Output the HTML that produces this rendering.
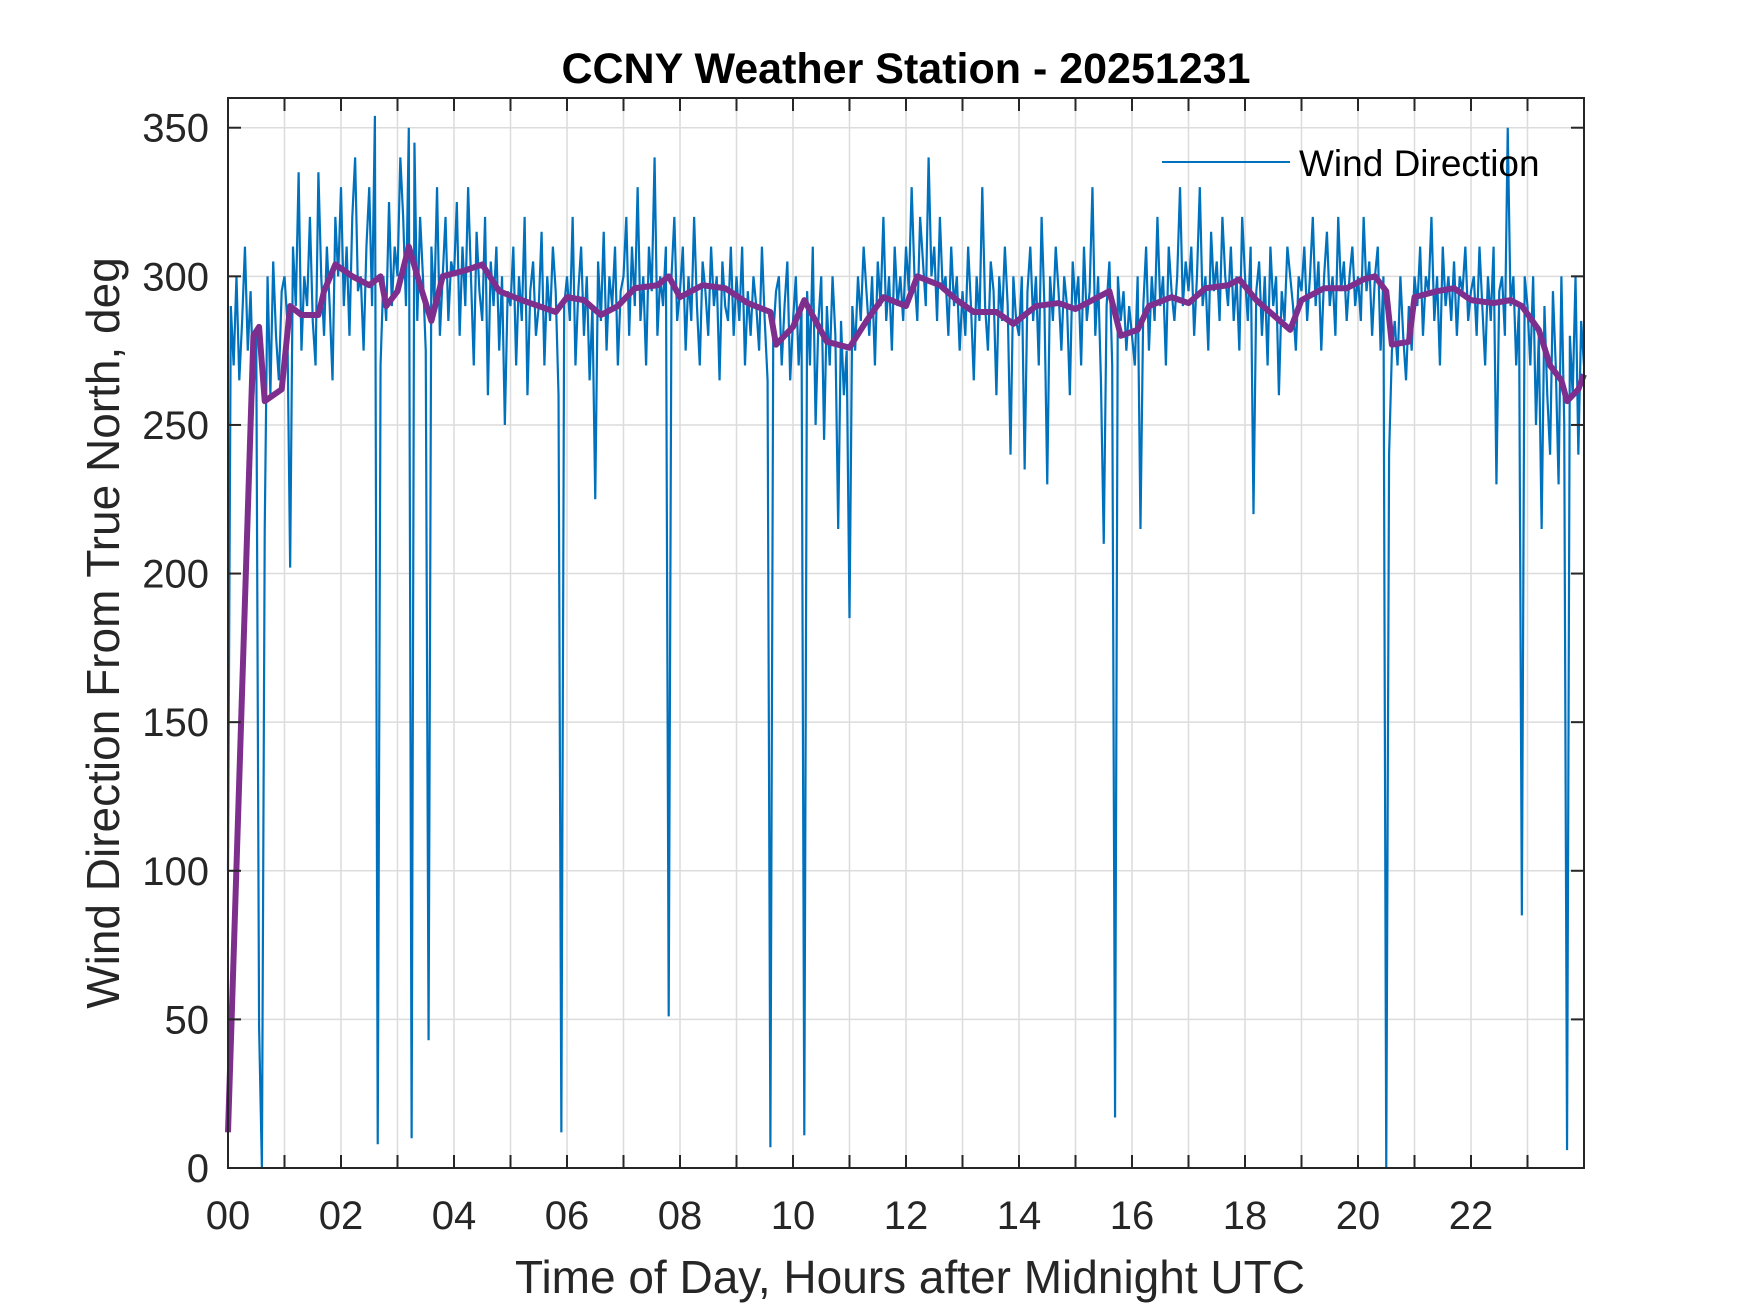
<!DOCTYPE html>
<html><head><meta charset="utf-8"><style>
html,body{margin:0;padding:0;background:#fff;}
svg{display:block;font-family:"Liberation Sans",Arial,sans-serif;}
</style></head><body>
<svg id="chart" width="1750" height="1313" viewBox="0 0 1750 1313" xmlns="http://www.w3.org/2000/svg">
<rect x="0" y="0" width="1750" height="1313" fill="#fff"/>
<text x="906" y="83" text-anchor="middle" font-size="43" font-weight="bold" fill="#000">CCNY Weather Station - 20251231</text>
<g id="grid"></g>
<g id="series"></g>
<g id="axes"></g>
<text transform="translate(119,633) rotate(-90)" text-anchor="middle" font-size="46" fill="#262626">Wind Direction From True North, deg</text>
<text x="910" y="1293" text-anchor="middle" font-size="46" fill="#262626">Time of Day, Hours after Midnight UTC</text>
<g>
<line x1="1162" y1="162" x2="1290" y2="162" stroke="#0072BD" stroke-width="2"/>
<text x="1299" y="176" font-size="37" fill="#000">Wind Direction</text>
</g>
</svg>
<script>
// Tick data
const xTicks = [0,1,2,3,4,5,6,7,8,9,10,11,12,13,14,15,16,17,18,19,20,21,22,23];
const xTickLabels = ["00","","02","","04","","06","","08","","10","","12","","14","","16","","18","","20","","22",""];
const yTicks = [0,50,100,150,200,250,300,350];
const yTickLabels = ["0","50","100","150","200","250","300","350"];
// Wind direction samples, every 3 minutes (20 per hour)
const windDir = [
100,290,270,300,265,285,310,275,295,260,280,48,0,215,300,260,305,280,265,295,
300,285,202,310,290,335,275,300,290,320,285,270,335,300,280,310,290,265,320,300,
330,290,310,280,320,340,295,300,275,310,330,290,354,8,270,300,285,325,290,310,
300,340,320,290,350,10,345,285,320,300,275,43,310,290,330,280,300,320,285,305,
300,325,280,310,290,330,300,270,315,295,285,320,260,305,290,310,275,300,250,295,
290,310,270,300,285,320,260,295,305,280,290,315,270,300,285,310,295,260,12,290,
300,285,320,270,295,310,280,300,265,290,225,305,285,315,275,300,290,310,270,295,
300,320,280,310,290,330,285,300,270,310,295,340,280,300,290,310,51,300,320,285,
295,310,275,300,285,320,290,270,305,295,280,310,290,300,265,305,290,285,310,280,
300,285,310,270,295,280,300,290,275,310,285,265,7,280,295,300,270,290,305,265,
285,300,270,290,11,295,270,310,250,285,300,245,290,270,300,280,215,285,260,275,
185,290,275,300,285,310,295,280,300,270,305,290,320,285,300,275,310,290,300,285,
310,295,330,300,285,320,305,290,340,300,310,285,320,295,300,280,310,290,300,275,
295,280,310,290,265,300,285,330,290,275,305,295,260,300,285,310,290,240,300,285,
280,300,235,295,310,285,300,270,320,290,230,300,285,310,295,275,300,290,260,305,
290,300,270,310,285,295,330,280,300,265,210,290,305,270,17,300,285,295,275,290,
280,270,300,215,290,310,275,300,285,320,290,300,270,310,295,285,300,330,290,305,
295,310,280,300,330,290,300,275,315,295,305,285,320,300,290,310,285,300,275,320,
300,285,310,220,295,305,280,300,270,310,290,300,260,295,285,310,300,290,275,300,
295,310,285,300,320,290,305,275,300,315,290,300,280,320,295,305,285,300,310,290,
300,285,320,295,305,280,300,310,275,300,0,240,275,285,270,300,280,265,290,275,
300,290,310,280,300,295,320,285,300,270,310,290,300,285,305,280,300,295,310,285,
295,300,280,310,290,270,300,285,310,230,295,300,280,350,290,300,270,290,85,300,
290,270,300,250,280,215,290,260,240,295,270,230,300,250,6,280,260,300,240,285,
270];
// Moving average (purple)
const maTimes = [0,0.45,0.55,0.65,0.95,1.1,1.3,1.6,1.7,1.9,2.2,2.5,2.7,2.8,3.0,3.2,3.4,3.6,3.8,4.2,4.5,4.8,5.2,5.5,5.8,6.0,6.3,6.6,6.9,7.2,7.6,7.8,8.0,8.4,8.8,9.2,9.6,9.7,10.0,10.2,10.4,10.6,11.0,11.3,11.6,12.0,12.2,12.6,12.9,13.2,13.6,13.9,14.3,14.7,15.0,15.3,15.6,15.8,16.1,16.3,16.7,17.0,17.3,17.7,17.9,18.2,18.5,18.8,19.0,19.4,19.8,20.1,20.3,20.5,20.6,20.9,21.0,21.4,21.7,22.0,22.4,22.7,22.9,23.2,23.4,23.6,23.7,23.9,24.0];
const maValues = [12,280,283,258,262,290,287,287,295,304,300,297,300,290,295,310,297,285,300,302,304,295,292,290,288,293,292,287,290,296,297,300,293,297,296,291,288,277,283,292,285,278,276,285,293,290,300,297,292,288,288,284,290,291,289,292,295,280,282,290,293,291,296,297,299,292,287,282,292,296,296,299,300,295,277,278,293,295,296,292,291,292,290,282,270,265,258,262,267];

const L=228,R=1584,T=98,B=1168,XMAX=24,YMAX=360;
const xs=h=>L+(R-L)*h/XMAX;
const ys=v=>B-(B-T)*v/YMAX;
const NS="http://www.w3.org/2000/svg";
function mk(tag,attrs,parent){const e=document.createElementNS(NS,tag);for(const k in attrs)e.setAttribute(k,attrs[k]);parent.appendChild(e);return e;}
const grid=document.getElementById('grid'),axes=document.getElementById('axes'),series=document.getElementById('series');

xTicks.forEach((t,i)=>{
  const x=xs(t);
  const g=mk('line',{x1:x,y1:T,x2:x,y2:B,stroke:'#dcdcdc','stroke-width':1.5},grid);
  
  
  const tb=mk('line',{x1:x,y1:B,x2:x,y2:B-13,stroke:'#262626','stroke-width':2},axes);
  
  
  const tt=mk('line',{x1:x,y1:T,x2:x,y2:T+13,stroke:'#262626','stroke-width':2},axes);
  
  
  if(xTickLabels[i]){
    const lb=mk('text',{x:x,y:1229,'text-anchor':'middle','font-size':40,fill:'#262626'},axes);
    lb.textContent=xTickLabels[i];
    
    
  }
});
yTicks.forEach((t,i)=>{
  const y=ys(t);
  const g=mk('line',{x1:L,y1:y,x2:R,y2:y,stroke:'#dcdcdc','stroke-width':1.5},grid);
  
  
  const tl=mk('line',{x1:L,y1:y,x2:L+13,y2:y,stroke:'#262626','stroke-width':2},axes);
  
  
  const tr=mk('line',{x1:R,y1:y,x2:R-13,y2:y,stroke:'#262626','stroke-width':2},axes);
  
  
  const lb=mk('text',{x:209,y:y+14,'text-anchor':'end','font-size':40,fill:'#262626'},axes);
  lb.textContent=yTickLabels[i];
  
  
});
const frame=mk('rect',{x:L,y:T,width:R-L,height:B-T,fill:'none',stroke:'#262626','stroke-width':2},axes);



const step=XMAX/(windDir.length-1);
let d='';
windDir.forEach((v,i)=>{d+=(i?'L':'M')+xs(i*step).toFixed(2)+','+ys(v).toFixed(2);});
const wl=mk('path',{d:d,fill:'none',stroke:'#0072BD','stroke-width':2.2,'stroke-linejoin':'miter'},series);



let d2='';
maTimes.forEach((t,i)=>{d2+=(i?'L':'M')+xs(t).toFixed(2)+','+ys(maValues[i]).toFixed(2);});
const ml=mk('path',{d:d2,fill:'none',stroke:'#7E2F8E','stroke-width':6,'stroke-linejoin':'round'},series);


</script>
</body></html>
